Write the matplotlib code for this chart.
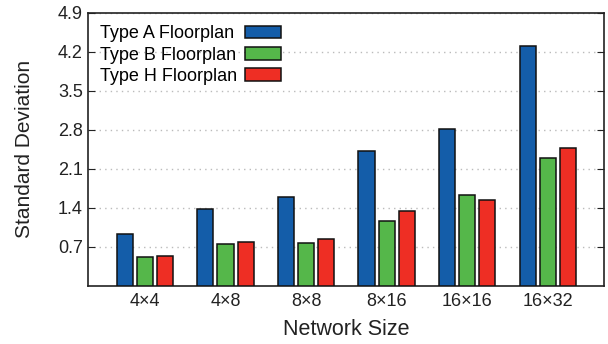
import numpy as np
import matplotlib
matplotlib.use("Agg")
import matplotlib.pyplot as plt

# дані
sizes = ["4\u00d74", "4\u00d78", "8\u00d78", "8\u00d716", "16\u00d716", "16\u00d732"]
type_a = [0.92, 1.38, 1.59, 2.41, 2.82, 4.31]
type_b = [0.52, 0.74, 0.77, 1.17, 1.63, 2.30]
type_h = [0.54, 0.78, 0.84, 1.34, 1.53, 2.47]
labels = ["Type A Floorplan", "Type B Floorplan", "Type H Floorplan"]
colors = ["#145DA9", "#55B74A", "#EE2E24"]
yticks = [0.7, 1.4, 2.1, 2.8, 3.5, 4.2, 4.9]

plt.rcParams['font.family'] = ['Liberation Sans', 'DejaVu Sans']

fig = plt.figure(figsize=(6.08, 3.44), dpi=100)
ax = fig.add_axes([0.1442, 0.1695, 0.8497, 0.7936])

x = np.arange(len(sizes))
width = 0.2
step = 0.25
for i, (vals, lab, col) in enumerate(zip([type_a, type_b, type_h], labels, colors)):
    ax.bar(x + (i - 1) * step, vals, width, color=col, edgecolor="#111111",
           linewidth=1.1, label=lab, zorder=3)

ax.set_xlim(-0.71, len(sizes) - 1 + 0.70)
ax.set_ylim(0, 4.9)
ax.set_yticks(yticks)
ax.set_yticklabels([f"{v:.1f}" for v in yticks])
ax.set_xticks(x)
ax.set_xticklabels(sizes)
ax.tick_params(axis='x', length=0, labelsize=13, pad=5, colors='#222222')
ax.tick_params(axis='y', direction='in', length=5, width=0.8, right=True,
               labelsize=13, colors='#222222', labelcolor='#222222')
ax.grid(axis='y', linestyle=(0, (1, 3)), color='#bbbbbb', linewidth=1.0, zorder=0)

for s in ax.spines.values():
    s.set_linewidth(1.2)
    s.set_color('#222222')

ax.set_xlabel("Network Size", fontsize=15.5, color='#222222', labelpad=7)
ax.set_ylabel("Standard Deviation", fontsize=15, color='#222222', labelpad=17)

leg = ax.legend(loc='upper left', bbox_to_anchor=(0.0, 1.0), frameon=False,
                markerfirst=False, fontsize=13, handlelength=2.0, handleheight=0.68,
                handletextpad=0.4, labelspacing=0.24, borderaxespad=0.3)

# текст легенди вирівняти ліворуч, а маркери праворуч (як у gnuplot)
for col in leg._legend_handle_box.get_children():
    for row in col.get_children():
        row.width = 181
        row.mode = "expand"

fig.savefig("out.png", dpi=100)
